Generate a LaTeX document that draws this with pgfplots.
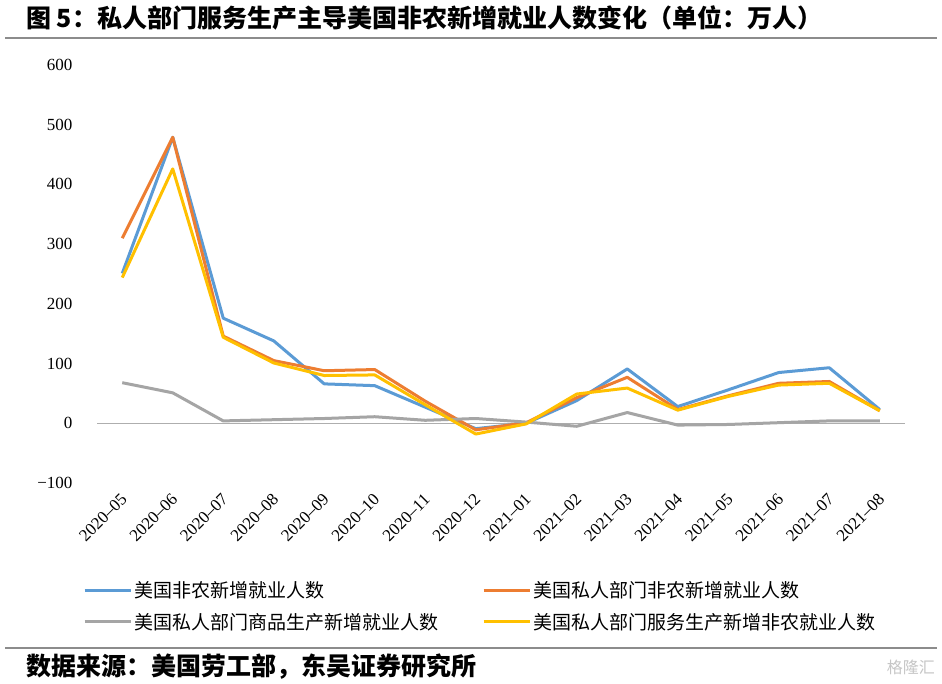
\documentclass[border=0pt]{standalone}
\usepackage{fontspec}
\setmainfont{Liberation Serif}
\newfontfamily\cjk{Noto Sans CJK SC}
\usepackage{pgfplots}
\pgfplotsset{compat=1.18}

\definecolor{cblue}{HTML}{5B9BD5}
\definecolor{corange}{HTML}{ED7D31}
\definecolor{cgray}{HTML}{A5A5A5}
\definecolor{cyellow}{HTML}{FFC000}
\definecolor{rulegray}{HTML}{8C8C8C}

\begin{document}
\begin{tikzpicture}[x=1pt,y=1pt]
\useasboundingbox[fill=white] (0,0) rectangle (942,683);
% title and source
\node[anchor=west,inner sep=0pt,font=\cjk\bfseries\fontsize{25}{28}\selectfont] at (26,665)
  {图 5：私人部门服务生产主导美国非农新增就业人数变化（单位：万人）};
\draw[line width=2.5pt,rulegray] (5,645) -- (937,645);
\draw[line width=2.5pt,rulegray] (5,35) -- (937,35);
\node[anchor=west,inner sep=0pt,font=\cjk\bfseries\fontsize{25}{28}\selectfont] at (26,16)
  {数据来源：美国劳工部，东吴证券研究所};
\node[anchor=east,inner sep=0pt,text=gray!45,font=\cjk\fontsize{16}{18}\selectfont] at (935,16) {格隆汇};

\begin{axis}[
  at={(97pt,200pt)}, anchor=south west,
  scale only axis, width=808pt, height=418pt,
  xmin=-0.5, xmax=15.5, ymin=-100, ymax=600,
  clip=false,
  axis line style={draw=none},
  major tick length=0pt,
  xtick={0,...,15},
  xticklabels={2020--05,2020--06,2020--07,2020--08,2020--09,2020--10,2020--11,2020--12,
               2021--01,2021--02,2021--03,2021--04,2021--05,2021--06,2021--07,2021--08},
  xticklabel style={rotate=45, anchor=east, font=\fontsize{17}{19}\selectfont, yshift=-11pt, xshift=-5pt},
  ytick={-100,0,100,200,300,400,500,600},
  yticklabels={−100,0,100,200,300,400,500,600},
  yticklabel style={anchor=east, font=\fontsize{17}{19}\selectfont, xshift=-21pt},
  extra y ticks={0}, extra y tick labels={},
  extra y tick style={grid=major, major grid style={draw=cgray!90, line width=1.3pt}},
  every axis plot/.append style={line width=3pt, line join=round, mark=none},
  legend image code/.code={\draw[#1] (0pt,0pt) -- (46pt,0pt);},
  legend style={draw=none, fill=none,
    at={(axis description cs:-0.021,-0.226)}, anchor=north west,
    font=\cjk\fontsize{19}{21}\selectfont,
    row sep=10pt,
    /tikz/every even column/.append style={column sep=42pt}},
  legend columns=2,
  legend cell align=left,
]
\addplot[cblue] coordinates {
(0,251) (1,479) (2,176) (3,138) (4,66) (5,63) (6,27) (7,-9)
(8,0) (9,38) (10,91) (11,28) (12,56) (13,85) (14,93) (15,23)
};
\addlegendentry{美国非农新增就业人数}
\addplot[corange] coordinates {
(0,310) (1,479) (2,146) (3,105) (4,88) (5,90) (6,37) (7,-11)
(8,1) (9,43) (10,77) (11,23) (12,46) (13,67) (14,70) (15,21)
};
\addlegendentry{美国私人部门非农新增就业人数}
\addplot[cgray] coordinates {
(0,68) (1,51) (2,4) (3,6) (4,8) (5,11) (6,5) (7,8)
(8,2) (9,-5) (10,18) (11,-3) (12,-2) (13,1) (14,4) (15,4)
};
\addlegendentry{美国私人部门商品生产新增就业人数}
\addplot[cyellow] coordinates {
(0,244) (1,426) (2,144) (3,101) (4,80) (5,81) (6,31) (7,-18)
(8,-1) (9,49) (10,59) (11,22) (12,45) (13,64) (14,67) (15,21)
};
\addlegendentry{美国私人部门服务生产新增非农就业人数}
\end{axis}
\end{tikzpicture}
\end{document}
